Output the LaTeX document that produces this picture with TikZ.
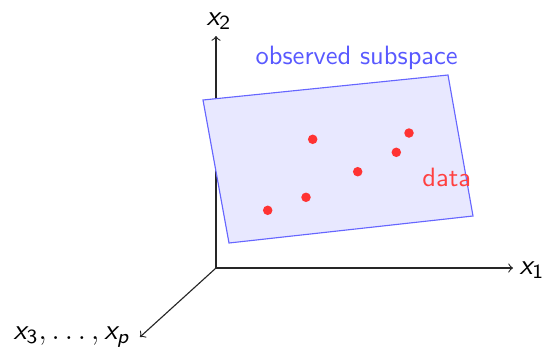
\documentclass[tikz,border=0pt]{standalone}
\usepackage{amsmath}
\usepackage{tikz}
\tikzset{
  axis/.style={->, line width=0.45pt, black!85},
  plane/.style={draw=blue!60, fill=blue!9, line width=0.45pt},
  datapt/.style={circle, fill=red!80, inner sep=0pt, minimum size=3.8pt},
  lab/.style={font=\sffamily\fontsize{10.6}{12}\selectfont, inner sep=0pt},
  axlab/.style={font=\sffamily\fontsize{11.5}{13}\selectfont, inner sep=0pt}
}
\newcommand{\sx}{\text{\sffamily\slshape x}}
\newcommand{\sub}[1]{\text{\sffamily #1}}
\begin{document}
\begin{tikzpicture}[x=0.4pt,y=-0.4pt]
\useasboundingbox (0,0) rectangle (546,348);
\coordinate (O) at (216,268);
\coordinate (E1) at (513,268);
\coordinate (E2) at (216,36);
\coordinate (E3) at (140,337);
\draw[axis] (O) -- (E1);
\draw[axis] (O) -- (E3);
\draw[axis] (O) -- (E2);
\node[axlab, anchor=west] (l1) at (519,270) {$\sx_{\sub{1}}$};
\node[axlab, anchor=south] (l2) at (219,30) {$\sx_{\sub{2}}$};
\node[axlab, anchor=east] (l3) at (130,337) {$\sx_{\sub{3}}, \ldots, \sx_{\sub{\slshape p}}$};
\draw[plane] (203,100) coordinate (A) -- (448,75) coordinate (B) -- (473,216) coordinate (C) -- (229,243) coordinate (D) -- cycle;
\node[datapt] (p1) at (267.7,210.3) {};
\node[datapt] (p2) at (306,197.3) {};
\node[datapt] (p3) at (312.7,139.3) {};
\node[datapt] (p4) at (357.7,171.7) {};
\node[datapt] (p5) at (396.3,152.3) {};
\node[datapt] (p6) at (409,133) {};
\node[lab, text=blue!65] (obs) at (356.7,58) {observed subspace};
\node[lab, text=red!75] (dat) at (446.7,177) {data};
\end{tikzpicture}
\end{document}
